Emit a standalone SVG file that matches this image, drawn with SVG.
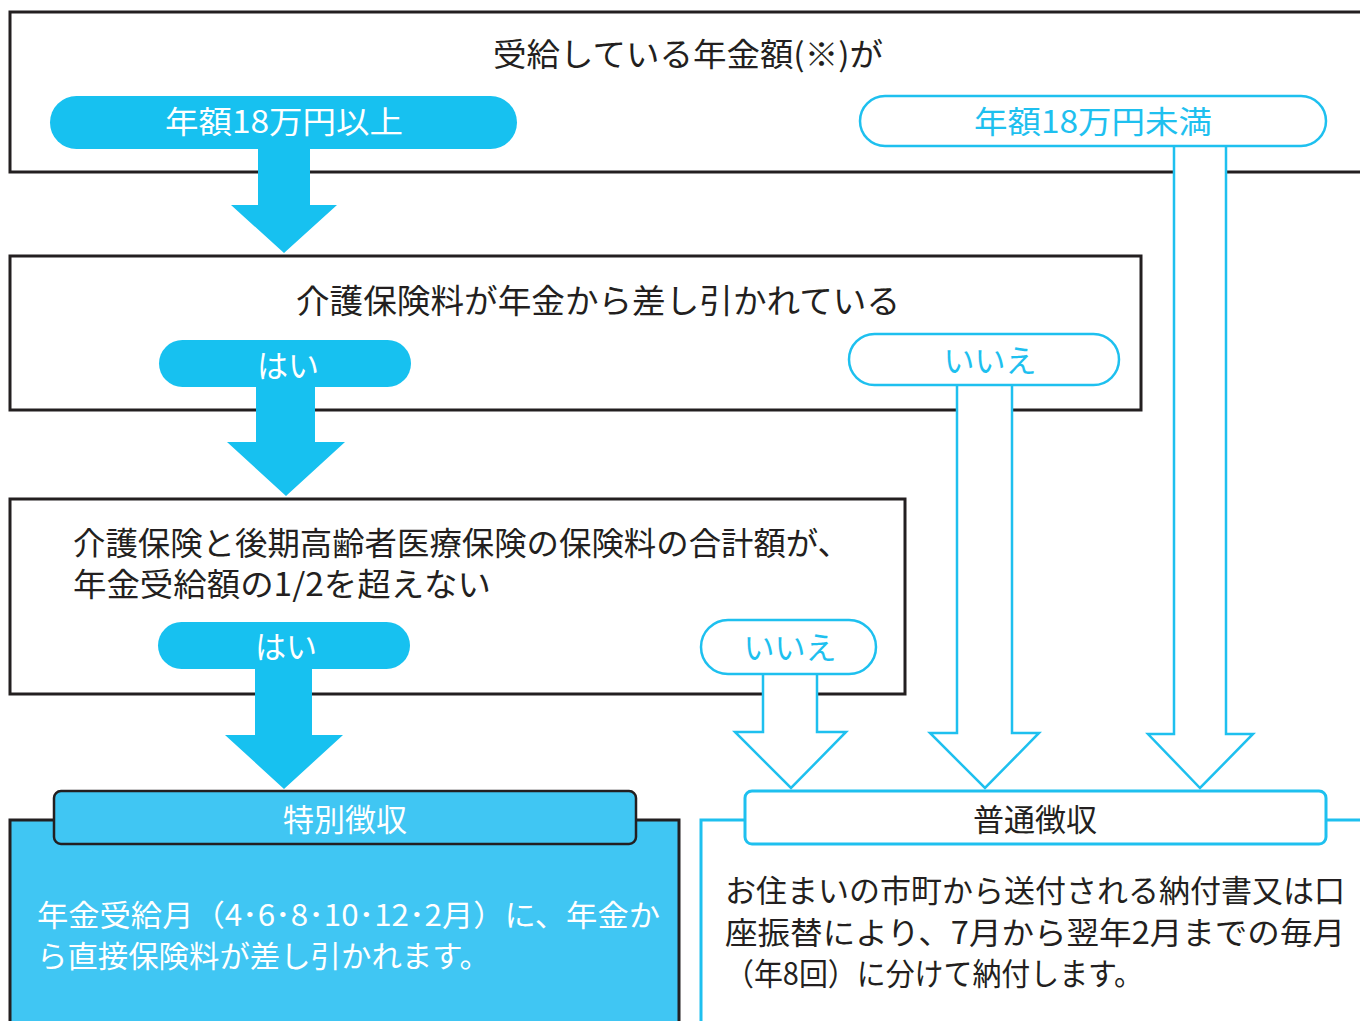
<svg xmlns="http://www.w3.org/2000/svg" width="1360" height="1021" viewBox="0 0 1360 1021">
<style>
.box{fill:#fff;stroke:#231f20;stroke-width:3}
.pillF{fill:#17c1f0}
.pillO{fill:#fff;stroke:#1ec0ef;stroke-width:2.5}
.arF{fill:#17c1f0}
.arO{fill:#fff;stroke:#1ec0ef;stroke-width:2.5;stroke-linejoin:miter}
text{font-family:"Noto Sans CJK JP","Noto Sans",sans-serif}
.dk{fill:#231f20}
.wt{fill:#fff}
.bl{fill:#1ec0ef}
.m{text-anchor:middle}
</style>
<rect width="1360" height="1021" fill="#fff"/>
<g id="q1">
<rect class="box" x="10" y="12" width="1360" height="160"/>
<text class="dk m" x="688" y="66" font-size="32" textLength="390" lengthAdjust="spacingAndGlyphs">受給している年金額(※)が</text>
</g>
<g id="q2">
<rect class="box" x="10" y="256" width="1131" height="154"/>
<text class="dk m" x="598" y="313" font-size="33" textLength="604" lengthAdjust="spacingAndGlyphs">介護保険料が年金から差し引かれている</text>
</g>
<g id="q3">
<rect class="box" x="10" y="499" width="895" height="195"/>
<text class="dk" font-size="32"><tspan x="73" y="555" textLength="777" lengthAdjust="spacingAndGlyphs">介護保険と後期高齢者医療保険の保険料の合計額が、</tspan><tspan x="73" y="596" textLength="418" lengthAdjust="spacingAndGlyphs">年金受給額の1/2を超えない</tspan></text>
</g>
<g id="special">
<rect x="10" y="820" width="669" height="220" fill="#40c6f3" stroke="#231f20" stroke-width="3"/>
<text class="wt" font-size="30"><tspan x="37" y="926" textLength="623" lengthAdjust="spacingAndGlyphs">年金受給月（4･6･8･10･12･2月）に、年金か</tspan><tspan x="37" y="967" textLength="453" lengthAdjust="spacingAndGlyphs">ら直接保険料が差し引かれます。</tspan></text>
</g>
<g id="normal">
<rect x="701" y="820" width="680" height="220" fill="#fff" stroke="#1ec0ef" stroke-width="3"/>
<text class="dk" font-size="31"><tspan x="725" y="902" textLength="620" lengthAdjust="spacingAndGlyphs">お住まいの市町から送付される納付書又は口</tspan><tspan x="725" y="944" textLength="620" lengthAdjust="spacingAndGlyphs">座振替により、7月から翌年2月までの毎月</tspan><tspan x="725" y="985" textLength="418" lengthAdjust="spacingAndGlyphs">（年8回）に分けて納付します。</tspan></text>
</g>
<g id="connectors">
<polygon class="arF" points="258,140 310,140 310,205 337,205 284,253 231,205 258,205"/>
<polygon class="arF" points="256,380 315,380 315,442 345,442 286,496 227,442 256,442"/>
<polygon class="arF" points="255,660 312,660 312,735 343,735 284,789 225,735 255,735"/>
<polygon class="arO" points="763,672 817,672 817,732 846,732 791,788 735,732 763,732"/>
<polygon class="arO" points="957,383 1012,383 1012,733 1039,733 985,788 930,733 957,733"/>
<polygon class="arO" points="1174,144 1226,144 1226,734 1253,734 1200,788 1148,734 1174,734"/>
</g>
<g id="pill-over18">
<rect class="pillF" x="50" y="96" width="467" height="53" rx="26.5"/>
<text class="wt m" x="284" y="133" font-size="31" textLength="238" lengthAdjust="spacingAndGlyphs">年額18万円以上</text>
</g>
<g id="pill-under18">
<rect class="pillO" x="860" y="96" width="466" height="50" rx="25"/>
<text class="bl m" x="1093" y="133" font-size="31" textLength="238" lengthAdjust="spacingAndGlyphs">年額18万円未満</text>
</g>
<g id="pill-yes1">
<rect class="pillF" x="159" y="340" width="252" height="47" rx="23.5"/>
<text class="wt m" x="288" y="377" font-size="31">はい</text>
</g>
<g id="pill-no1">
<rect class="pillO" x="849" y="334" width="270" height="51" rx="25.5"/>
<text class="bl m" x="990" y="372" font-size="31">いいえ</text>
</g>
<g id="pill-yes2">
<rect class="pillF" x="158" y="622" width="252" height="47" rx="23.5"/>
<text class="wt m" x="286" y="658" font-size="31">はい</text>
</g>
<g id="pill-no2">
<rect class="pillO" x="701" y="620" width="175" height="54" rx="27"/>
<text class="bl m" x="790" y="659" font-size="31">いいえ</text>
</g>
<g id="label-special">
<rect x="54" y="791" width="582" height="53" rx="7" fill="#40c6f3" stroke="#231f20" stroke-width="2.5"/>
<text class="wt m" x="345" y="831" font-size="31">特別徴収</text>
</g>
<g id="label-normal">
<rect x="745" y="791" width="581" height="53" rx="7" fill="#fff" stroke="#1ec0ef" stroke-width="3"/>
<text class="dk m" x="1035" y="831" font-size="31">普通徴収</text>
</g>
</svg>
